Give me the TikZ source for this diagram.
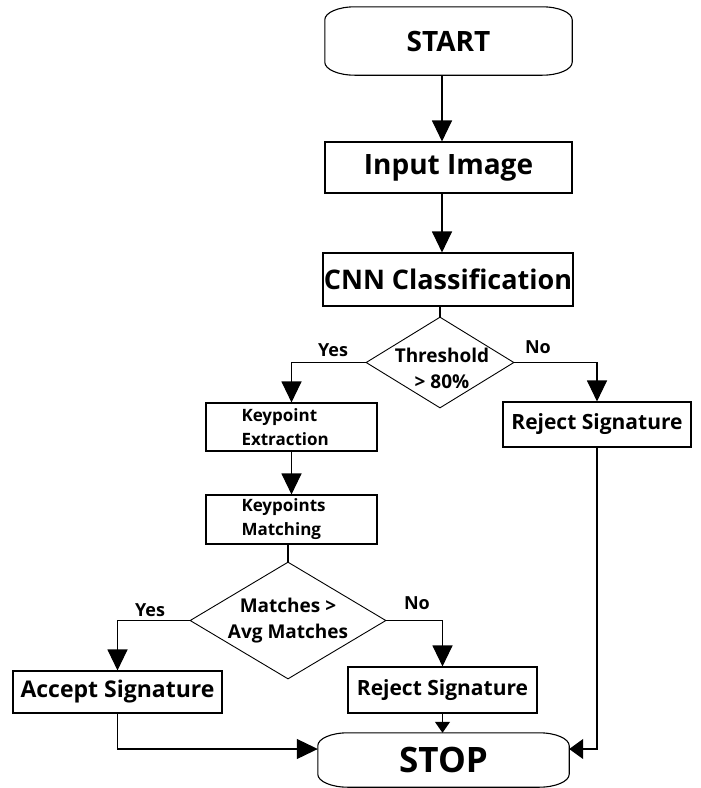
\documentclass[tikz,border=0pt]{standalone}
\usepackage{fontspec}
\setmainfont{Open Sans}
\usepackage{tikz}
\usetikzlibrary{shapes.geometric}
\usetikzlibrary{arrows.meta}

\begin{document}
\begin{tikzpicture}[x=1pt,y=-1pt,
  box/.style={draw,line width=1.1pt,rectangle,inner sep=0pt},
  term/.style={rectangle,inner sep=0pt},
  decision/.style={draw,line width=0.9pt,diamond,inner sep=0pt},
  flow/.style={line width=1.1pt,-{Triangle[width=20pt,length=21pt]}},
  link/.style={line width=1.1pt},
  huge/.style={font=\fontsize{35}{38}\selectfont\bfseries},
  large/.style={font=\fontsize{28}{32}\selectfont\bfseries},
  mid/.style={font=\fontsize{21}{26}\selectfont\bfseries},
  small/.style={font=\fontsize{19}{26}\selectfont\bfseries,align=center},
  tiny/.style={font=\fontsize{17}{24}\selectfont\bfseries,align=left,text width=100pt},
  answer/.style={font=\fontsize{18}{22}\selectfont\bfseries}]
  \useasboundingbox (0,0) rectangle (701,788);

  \node[term,large,minimum width=247pt,minimum height=68pt] (start) at (448.5,41) {START};
  \node[box,large,minimum width=247pt,minimum height=51pt] (input) at (448.5,167.5) {Input Image};
  \node[box,large,font=\fontsize{27}{32}\selectfont\bfseries,minimum width=250pt,minimum height=53pt] (cnn) at (448,279.5) {CNN Classification};
  \node[decision,minimum width=148pt,minimum height=91pt] (thr) at (440,362.5) {};
  \node[small] (thrtext) at (442,368) {Threshold\\> 80\%};
  \node[box,mid,minimum width=188pt,minimum height=45pt] (rej1) at (597,424.5) {Reject Signature};
  \node[box,tiny,minimum width=171pt,minimum height=48pt] (kpe) at (291.5,427) {Keypoint\\Extraction};
  \node[box,tiny,minimum width=171pt,minimum height=49pt] (kpm) at (291.5,519.5) {Keypoints\\Matching};
  \node[decision,minimum width=196pt,minimum height=117pt] (mat) at (288,620.5) {};
  \node[small] (mattext) at (288,620.5) {Matches >\\Avg Matches};
  \node[box,mid,font=\fontsize{23}{26}\selectfont\bfseries,minimum width=209pt,minimum height=42pt] (acc) at (117.5,692) {Accept Signature};
  \node[box,mid,minimum width=189pt,minimum height=46pt] (rej2) at (442.5,690) {Reject Signature};
  \node[term,huge,minimum width=251pt,minimum height=54pt] (stop) at (443.5,760) {STOP};

  \node[answer] (yes1) at (333,350) {Yes};
  \node[answer] (no1) at (538,347) {No};
  \node[answer] (yes2) at (150,610) {Yes};
  \node[answer] (no2) at (417,603) {No};

  \draw[link] ([xshift=30pt]start.north west) -- ([xshift=-30pt]start.north east)
    arc[start angle=90,end angle=0,x radius=30pt,y radius=13pt] -- ([yshift=13pt]start.south east)
    arc[start angle=0,end angle=-90,x radius=30pt,y radius=13pt] -- ([xshift=30pt]start.south west)
    arc[start angle=270,end angle=180,x radius=30pt,y radius=13pt] -- ([yshift=-13pt]start.north west)
    arc[start angle=180,end angle=90,x radius=30pt,y radius=13pt];
  \draw[link] ([xshift=30pt]stop.north west) -- ([xshift=-30pt]stop.north east)
    arc[start angle=90,end angle=0,x radius=30pt,y radius=13pt] -- ([yshift=13pt]stop.south east)
    arc[start angle=0,end angle=-90,x radius=30pt,y radius=13pt] -- ([xshift=30pt]stop.south west)
    arc[start angle=270,end angle=180,x radius=30pt,y radius=13pt] -- ([yshift=-13pt]stop.north west)
    arc[start angle=180,end angle=90,x radius=30pt,y radius=13pt];

  \coordinate (axis) at (442,0);
  \draw[flow] (start.south -| axis) -- (input.north -| axis);
  \draw[flow] (input.south -| axis) -- (cnn.north -| axis);
  \draw[link] (cnn.south -| thr.north) -- (thr.north);
  \draw[flow] (thr.west) -| (kpe.north);
  \draw[flow] (thr.east) -| (rej1.north);
  \draw[flow] (kpe.south) -- (kpm.north);
  \draw[link] (kpm.south -| mat.north) -- (mat.north);
  \draw[flow] (mat.west) -| (acc.north);
  \draw[flow] (mat.east) -| (rej2.north);
  \draw[link,-{Triangle[width=15pt,length=11pt]}] (rej2.south) -- (rej2.south |- stop.north);
  \draw[flow] (acc.south) |- ([yshift=11pt]stop.west);
  \draw[link,-{Triangle[width=20pt,length=14pt]}] (rej1.south) |- ([yshift=11pt]stop.east);
\end{tikzpicture}
\end{document}
